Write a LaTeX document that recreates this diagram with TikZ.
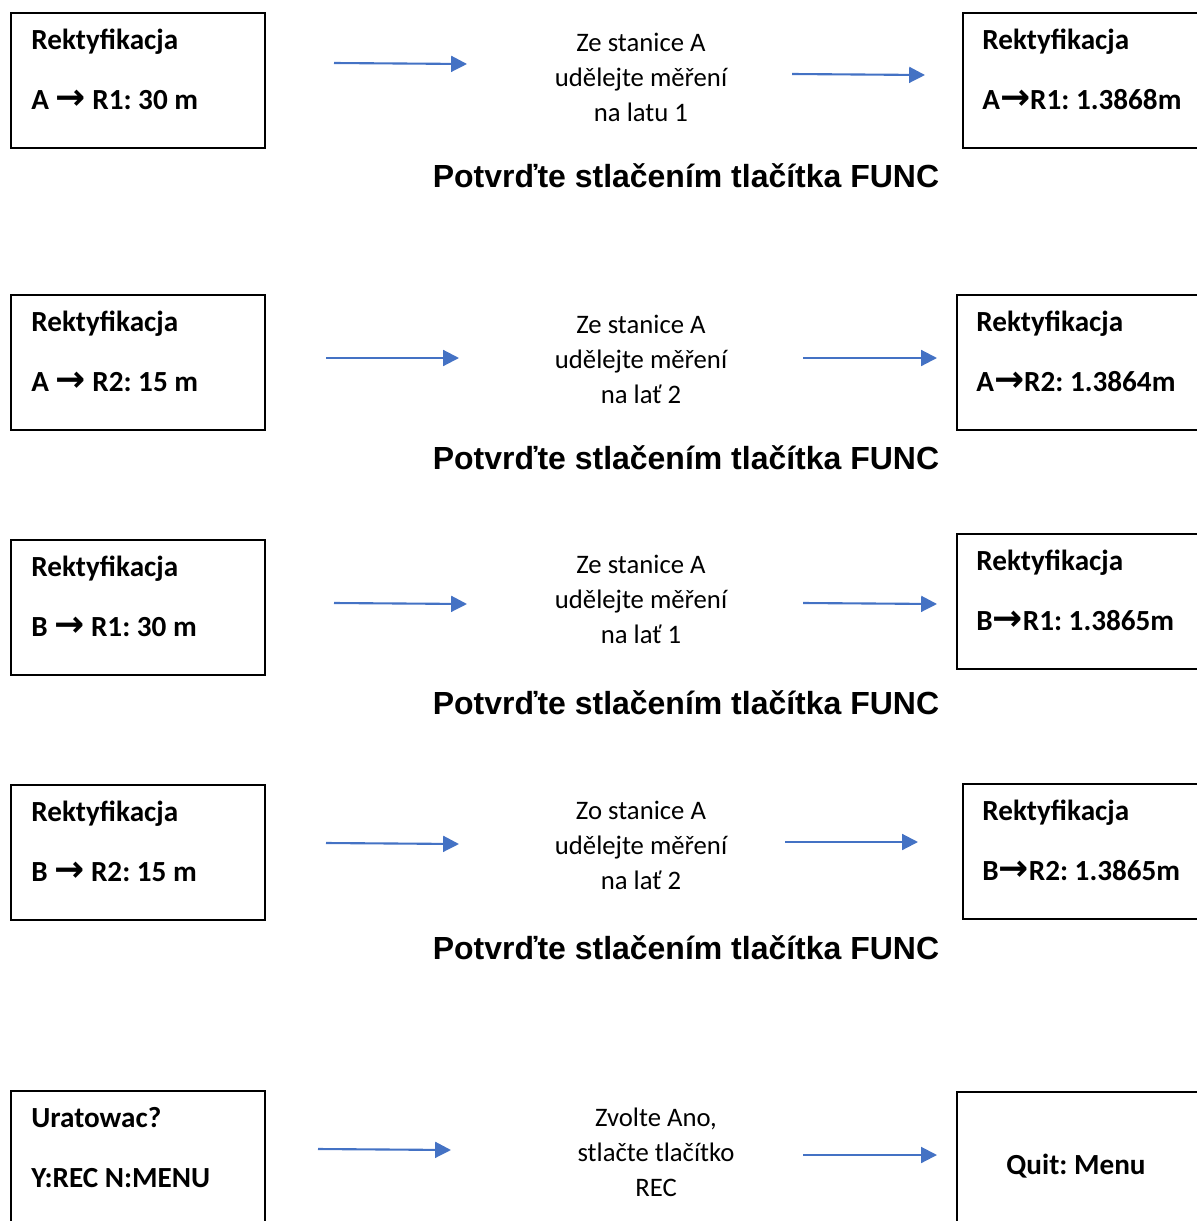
\documentclass[tikz,border=0pt]{standalone}
\usepackage{fontspec}
\setmainfont{Carlito}
\newfontfamily\headfont{Liberation Sans}
\newfontfamily\arrowfont{DejaVu Sans}
\usetikzlibrary{positioning,arrows.meta}
\definecolor{flowblue}{HTML}{4472C4}
\newcommand{\goesto}{{\arrowfont\bfseries\fontsize{20.5}{20}\selectfont →}}
\frenchspacing

\begin{document}
\begin{tikzpicture}[
    x=0.02cm,
    y=-0.02cm,
    screen/.style={
        rectangle,
        draw,
        line width=1pt,
        minimum width=5.08cm,
        minimum height=2.7cm,
        anchor=north west
    },
    screentext/.style={
        anchor=base west,
        inner sep=0pt,
        font=\bfseries\fontsize{16.6}{20}\selectfont
    },
    hint/.style={
        align=center,
        anchor=base,
        inner sep=0pt,
        font=\fontsize{15.2}{19.85}\selectfont
    },
    confirm/.style={
        anchor=base,
        inner sep=0pt,
        font=\headfont\bfseries\fontsize{18.2}{22}\selectfont
    },
    line/.style={
        draw,
        -{Triangle[length=9pt,width=9pt]},
        line width=1.2pt,
        color=flowblue
    }
]
    \useasboundingbox (0,0) rectangle (1197,1221);
    \clip (0,0) rectangle (1197,1221);

    % Row 1: A -> R1
    \node [screen] (l1) at (10,12) {};
    \node [screentext] (l1t) at ([shift={(21,37)}]l1.north west) {Rektyfikacja};
    \node [screentext] (l1v) at ([shift={(21,97)}]l1.north west) {A \goesto{} R1: 30 m};
    \node [hint] (m1) at (641,121) {Ze stanice A\\udělejte měření\\na latu 1};
    \node [screen] (r1) at (962,12) {};
    \node [screentext] (r1t) at ([shift={(20,37)}]r1.north west) {Rektyfikacja};
    \node [screentext] (r1v) at ([shift={(20,97)}]r1.north west) {A\goesto R1: 1.3868m};
    \node [confirm] (f1) at (686,187) {Potvrďte stlačením tlačítka FUNC};

    % Row 2: A -> R2
    \node [screen] (l2) at (10,294) {};
    \node [screentext] (l2t) at ([shift={(21,37)}]l2.north west) {Rektyfikacja};
    \node [screentext] (l2v) at ([shift={(21,97)}]l2.north west) {A \goesto{} R2: 15 m};
    \node [hint] (m2) at (641,403) {Ze stanice A\\udělejte měření\\na lať 2};
    \node [screen] (r2) at (956,294) {};
    \node [screentext] (r2t) at ([shift={(20,37)}]r2.north west) {Rektyfikacja};
    \node [screentext] (r2v) at ([shift={(20,97)}]r2.north west) {A\goesto R2: 1.3864m};
    \node [confirm] (f2) at (686,469) {Potvrďte stlačením tlačítka FUNC};

    % Row 3: B -> R1
    \node [screen] (l3) at (10,539) {};
    \node [screentext] (l3t) at ([shift={(21,37)}]l3.north west) {Rektyfikacja};
    \node [screentext] (l3v) at ([shift={(21,97)}]l3.north west) {B \goesto{} R1: 30 m};
    \node [hint] (m3) at (641,643) {Ze stanice A\\udělejte měření\\na lať 1};
    \node [screen] (r3) at (956,533) {};
    \node [screentext] (r3t) at ([shift={(20,37)}]r3.north west) {Rektyfikacja};
    \node [screentext] (r3v) at ([shift={(20,97)}]r3.north west) {B\goesto R1: 1.3865m};
    \node [confirm] (f3) at (686,714) {Potvrďte stlačením tlačítka FUNC};

    % Row 4: B -> R2
    \node [screen] (l4) at (10,784) {};
    \node [screentext] (l4t) at ([shift={(21,37)}]l4.north west) {Rektyfikacja};
    \node [screentext] (l4v) at ([shift={(21,97)}]l4.north west) {B \goesto{} R2: 15 m};
    \node [hint] (m4) at (641,889) {Zo stanice A\\udělejte měření\\na lať 2};
    \node [screen] (r4) at (962,783) {};
    \node [screentext] (r4t) at ([shift={(20,37)}]r4.north west) {Rektyfikacja};
    \node [screentext] (r4v) at ([shift={(20,97)}]r4.north west) {B\goesto R2: 1.3865m};
    \node [confirm] (f4) at (686,959) {Potvrďte stlačením tlačítka FUNC};

    % Row 5: save
    \node [screen] (l5) at (10,1090) {};
    \node [screentext] (l5t) at ([shift={(21,37)}]l5.north west) {Uratowac?};
    \node [screentext] (l5v) at ([shift={(21,97)}]l5.north west) {Y:REC N:MENU};
    \node [hint] (m5) at (656,1196) {Zvolte Ano,\\stlačte tlačítko\\REC};
    \node [screen] (r5) at (956,1091) {};
    \node [screentext, anchor=base] (r5t) at ([shift={(120,83)}]r5.north west) {Quit: Menu};

    % Arrow end points
    \coordinate (a1) at (334,63);   \coordinate (b1) at (467,64);
    \coordinate (c1) at (792,74);   \coordinate (d1) at (925,75);
    \coordinate (a2) at (326,358);  \coordinate (b2) at (459,358);
    \coordinate (c2) at (803,358);  \coordinate (d2) at (937,358);
    \coordinate (a3) at (334,603);  \coordinate (b3) at (467,604);
    \coordinate (c3) at (803,603);  \coordinate (d3) at (937,604);
    \coordinate (a4) at (326,843);  \coordinate (b4) at (459,844);
    \coordinate (c4) at (785,842);  \coordinate (d4) at (918,842);
    \coordinate (a5) at (318,1149); \coordinate (b5) at (451,1150);
    \coordinate (c5) at (803,1155); \coordinate (d5) at (937,1155);

    % Flow arrows
    \path [line] (a1) -- (b1);
    \path [line] (c1) -- (d1);
    \path [line] (a2) -- (b2);
    \path [line] (c2) -- (d2);
    \path [line] (a3) -- (b3);
    \path [line] (c3) -- (d3);
    \path [line] (a4) -- (b4);
    \path [line] (c4) -- (d4);
    \path [line] (a5) -- (b5);
    \path [line] (c5) -- (d5);
\end{tikzpicture}
\end{document}
